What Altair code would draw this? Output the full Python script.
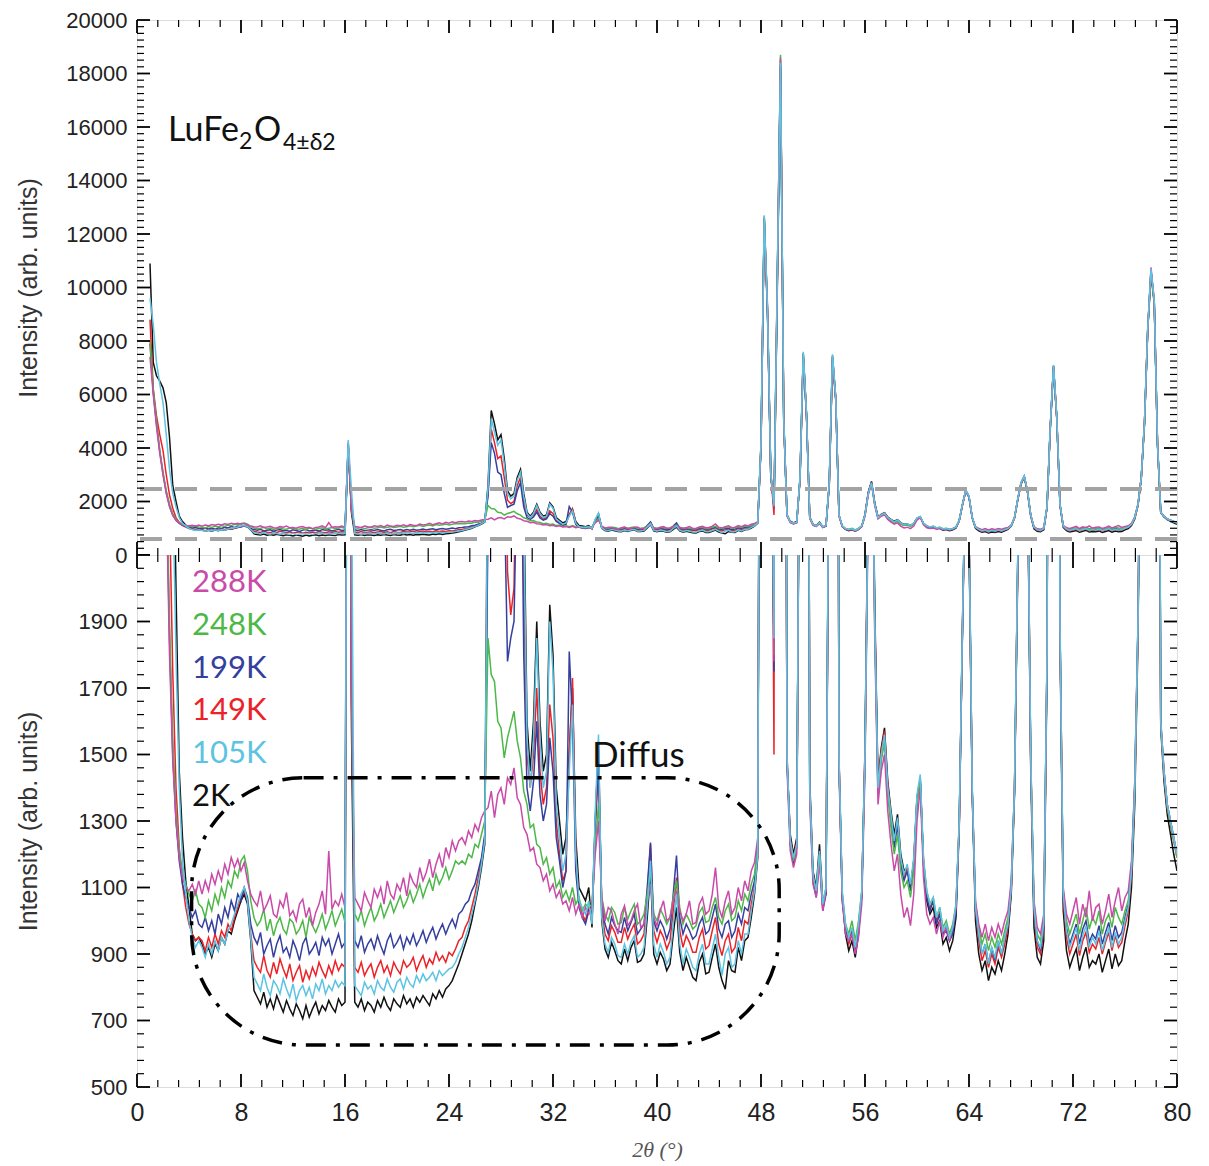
import altair as alt
import pandas as pd

# ---------------- data ----------------
SERIES = ["288K", "248K", "199K", "149K", "105K", "2K"]
COLORS = ["#c94aa8", "#4db848", "#343f9e", "#ec2227", "#5cc3e2", "#111111"]
DRAW_ORDER = ["2K", "149K", "199K", "248K", "288K", "105K"]

# 2-theta grid: 1.0 .. 80.0 every 0.25 deg (317 points)
TWO_THETA = [round(1.0 + 0.25 * i, 2) for i in range(317)]

I_288K = [
    # 1.0-4.75
    7400, 6000, 4800, 3800, 3000, 2300, 1800, 1480, 1300, 1190, 1130, 1100, 1090, 1110, 1080, 1120,
    # 5.0-8.75
    1080, 1120, 1090, 1140, 1110, 1150, 1120, 1170, 1140, 1190, 1160, 1185, 1150, 1175, 1120, 1080,
    # 9.0-16.0
    1060, 1045, 1090, 1030, 1050, 1075, 1020, 1010, 1060, 1040, 1085, 1015, 1030, 1000, 1050, 1065,
    1010, 1040, 985, 1025, 1050, 1090, 1020, 1210, 1035, 1060, 1045, 1080, 1040,
    # 16.25-16.5
    4100, 1750,
    # 16.75-24.75
    1070, 1050, 1030, 1085, 1060, 1040, 1095, 1070, 1100, 1050, 1120, 1080, 1065, 1110, 1090, 1130,
    1075, 1140, 1115, 1100, 1160, 1120, 1145, 1185, 1130, 1170, 1200, 1160, 1220, 1190, 1240, 1210, 1240,
    # 25.0-26.75
    1250, 1230, 1270, 1250, 1290, 1270, 1310, 1330,
    # 27.0-34.75
    1340, 1390, 1310, 1380, 1400, 1350, 1430, 1410, 1460, 1370, 1350, 1280, 1260, 1210, 1220, 1170,
    1160, 1120, 1140, 1090, 1110, 1070, 1090, 1050, 1060, 1030, 1070, 1020, 1050, 1010, 1040, 1020,
    # 35.0-47.75
    1040, 1200, 1300, 1070, 1000, 1040, 1030, 990, 960, 1020, 1045, 985, 1000, 1030, 1050, 980,
    990, 1060, 1110, 1010, 985, 1030, 1060, 1000, 1010, 1060, 1090, 1030, 1000, 1020, 1060, 990,
    995, 1050, 1070, 1020, 1030, 1080, 1160, 1040, 1010, 1060, 1090, 1020, 1040, 1100, 1060, 1120,
    1090, 1150, 1175, 1250,
    # 48.0-80.0
    4050, 12550, 9250, 3050, 1780, 10250, 18600, 5050,
    1460, 1210, 1160, 1200, 2820, 7500, 5200, 1360,
    1110, 1070, 1180, 1030, 1090, 2620, 7400, 5800,
    1450, 1060, 960, 940, 960, 900, 950, 1050,
    1450, 2250, 2650, 1850, 1350, 1450, 1500, 1330,
    1230, 1150, 1200, 1080, 1010, 1040, 985, 1080,
    1300, 1400, 1130, 1020, 990, 1010, 960, 1000,
    950, 980, 940, 980, 1040, 1290, 1870, 2400,
    2170, 1380, 1060, 990, 950, 990, 940, 980,
    950, 990, 960, 1000, 1030, 1120, 1400, 2070,
    2700, 2950, 2370, 1470, 1060, 980, 960, 1020,
    1770, 4740, 7040, 5140, 1870, 1100, 1020, 990,
    1030, 1070, 990, 1050, 1010, 1090, 1000, 1040,
    1050, 990, 1030, 1080, 1010, 1060, 1100, 1030,
    1070, 1090, 1180, 1420, 1890, 2880, 4950, 8450,
    10750, 9500, 4200, 1600, 1450, 1350, 1300, 1250,
    1200,
]

I_248K = [
    8000, 6200, 5000, 3900, 3100, 2400, 1900, 1550, 1330, 1210, 1150, 1110, 1080, 1060, 1090, 1050,
    1040, 1010, 1060, 1030, 1080, 1050, 1100, 1070, 1120, 1100, 1150, 1130, 1180, 1195, 1150, 1060,
    1010, 985, 1000, 1035, 970, 1005, 955, 990, 1010, 975, 960, 1005, 995, 960, 975, 1000,
    950, 1010, 985, 965, 990, 1020, 975, 1000, 1030, 985, 1010, 1035, 995,
    4000, 1700,
    1020, 1000, 1030, 985, 1015, 1040, 1000, 1020, 1050, 1010, 1035, 1060, 1025, 1050, 1075, 1040,
    1060, 1090, 1055, 1080, 1110, 1070, 1100, 1125, 1090, 1140, 1110, 1130, 1160, 1125, 1150, 1180, 1170,
    1180, 1170, 1200, 1190, 1230, 1220, 1260, 1300,
    1850, 1740, 1720, 1600, 1580, 1490, 1550, 1590, 1630, 1540, 1490, 1390, 1350, 1280, 1290, 1230,
    1220, 1170, 1190, 1140, 1160, 1100, 1120, 1070, 1090, 1060, 1100, 1050, 1070, 1030, 1050, 1040,
    1050, 1230, 1350, 1070, 1020, 1000, 1040, 1025, 990, 995, 1040, 1005, 1030, 1050, 990, 1000,
    1020, 1080, 1150, 1020, 1000, 1035, 1015, 990, 1010, 1070, 1120, 1040, 990, 1020, 1000, 975,
    985, 1025, 1040, 995, 1000, 1040, 1070, 1010, 990, 1030, 1050, 1000, 1010, 1060, 1030, 1080,
    1060, 1110, 1140, 1230,
    4100, 12600, 9300, 3000, 1800, 10300, 18700, 5000,
    1480, 1230, 1180, 1220, 2850, 7550, 5250, 1380,
    1130, 1090, 1200, 1050, 1100, 2650, 7450, 5850,
    1470, 1080, 990, 960, 1000, 940, 1000, 1090,
    1480, 2280, 2680, 1880, 1380, 1480, 1540, 1380,
    1280, 1200, 1260, 1150, 1100, 1120, 1070, 1150,
    1350, 1420, 1180, 1090, 1050, 1070, 1010, 1040,
    980, 1000, 960, 990, 1050, 1300, 1880, 2410,
    2180, 1390, 1050, 980, 930, 960, 910, 950,
    920, 960, 930, 970, 1010, 1110, 1400, 2080,
    2680, 2920, 2380, 1480, 1050, 960, 940, 1000,
    1780, 4750, 7050, 5150, 1880, 1090, 1000, 960,
    990, 1020, 960, 1000, 1040, 975, 1010, 990,
    1030, 960, 1000, 1020, 980, 1040, 1010, 990,
    1030, 1060, 1160, 1400, 1880, 2870, 4950, 8450,
    10600, 9450, 4150, 1590, 1440, 1340, 1290, 1240,
    1190,
]

I_199K = [
    7900, 6100, 4900, 3900, 3050, 2350, 1850, 1500, 1300, 1180, 1110, 1070, 1040, 1010, 1030, 990,
    980, 1010, 970, 1000, 960, 1020, 990, 1040, 1010, 1060, 1030, 1080, 1060, 1100, 1070, 990,
    950, 930, 965, 900, 925, 945, 890, 930, 955, 905, 920, 890, 940, 915, 880, 930,
    950, 900, 915, 935, 895, 950, 925, 945, 900, 930, 960, 920, 935,
    4150, 1680,
    940, 920, 955, 905, 930, 945, 915, 955, 925, 900, 940, 960, 920, 935, 955, 915,
    950, 930, 960, 925, 945, 970, 935, 960, 980, 945, 970, 990, 960, 985, 1005, 980, 1020,
    1030, 1050, 1060, 1090, 1110, 1150, 1190, 1260,
    2200, 4200, 3800, 3100, 3000, 2300, 1780, 1850, 1900, 2400, 2700, 1800, 1400, 1330, 1420, 1600,
    1380, 1300, 1350, 1550, 1450, 1250, 1180, 1100, 1150, 1810, 1600, 1150, 1040, 1010, 990, 1030,
    1020, 1300, 1480, 1050, 990, 960, 1010, 985, 970, 965, 1010, 970, 995, 1020, 960, 975,
    990, 1100, 1235, 1000, 970, 1000, 980, 945, 975, 1080, 1196, 1010, 960, 990, 970, 945,
    955, 990, 1010, 960, 970, 1010, 1050, 975, 950, 990, 1000, 950, 970, 1020, 990, 1040,
    1030, 1080, 1120, 1220,
    4150, 12650, 9150, 3080, 1750, 10100, 18500, 5080,
    1500, 1230, 1170, 1220, 2880, 7550, 5280, 1390,
    1120, 1070, 1190, 1030, 1080, 2680, 7450, 5880,
    1490, 1060, 970, 940, 970, 900, 980, 1070,
    1490, 2310, 2710, 1910, 1390, 1490, 1550, 1390,
    1300, 1220, 1290, 1170, 1120, 1150, 1090, 1170,
    1360, 1430, 1170, 1070, 1030, 1060, 990, 1020,
    960, 970, 940, 960, 1030, 1290, 1890, 2420,
    2190, 1390, 1030, 960, 900, 930, 870, 920,
    880, 940, 900, 950, 990, 1100, 1390, 2090,
    2690, 2940, 2390, 1490, 1030, 940, 910, 980,
    1790, 4780, 7080, 5180, 1890, 1070, 980, 930,
    960, 990, 930, 975, 1000, 935, 960, 945,
    985, 930, 965, 995, 940, 985, 950, 965,
    1010, 1050, 1160, 1410, 1900, 2890, 4980, 8480,
    10650, 9480, 4180, 1600, 1450, 1350, 1300, 1250,
    1200,
]

I_149K = [
    8800, 6200, 5200, 4500, 3900, 3000, 2250, 1750, 1400, 1220, 1110, 1040, 990, 960, 940, 950,
    940, 910, 950, 920, 960, 930, 970, 950, 990, 970, 1010, 1040, 1070, 1090, 1060, 960,
    880, 860, 845, 895, 850, 830, 875, 840, 885, 855, 830, 870, 820, 845, 865, 815,
    850, 825, 860, 835, 875, 850, 830, 865, 840, 880, 850, 870, 860,
    4200, 1650,
    860, 845, 875, 835, 855, 870, 830, 860, 880, 845, 865, 835, 875, 855, 840, 880,
    860, 870, 890, 850, 875, 895, 860, 885, 870, 905, 880, 895, 875, 905, 895, 915, 940,
    950, 980, 1000, 1040, 1080, 1130, 1180, 1250,
    2300, 4700, 4200, 3600, 3700, 2900, 2050, 1920, 2000, 2600, 2900, 2000, 1500, 1400, 1500, 1700,
    1450, 1350, 1400, 1650, 1550, 1300, 1200, 1120, 1150, 1500, 1730, 1200, 1050, 1020, 1000, 1040,
    1000, 1280, 1450, 1030, 960, 940, 985, 965, 935, 935, 980, 945, 970, 990, 930, 940,
    960, 1080, 1230, 970, 935, 970, 950, 915, 940, 1030, 1130, 970, 920, 955, 935, 905,
    905, 950, 975, 915, 925, 970, 1010, 930, 895, 940, 960, 905, 920, 980, 940, 1000,
    990, 1050, 1100, 1200,
    4100, 12600, 9100, 3050, 1500, 10000, 18300, 5050,
    1490, 1250, 1180, 1240, 2850, 7500, 5250, 1410,
    1130, 1080, 1200, 1040, 1090, 2650, 7400, 5850,
    1490, 1070, 980, 930, 960, 910, 980, 1080,
    1510, 2320, 2720, 1920, 1410, 1510, 1570, 1410,
    1310, 1230, 1300, 1180, 1130, 1160, 1100, 1180,
    1370, 1430, 1180, 1080, 1040, 1060, 1000, 1030,
    960, 980, 940, 970, 1040, 1290, 1890, 2420,
    2180, 1390, 1030, 940, 880, 910, 860, 900,
    870, 920, 890, 930, 980, 1090, 1390, 2080,
    2680, 2930, 2380, 1480, 1020, 920, 900, 970,
    1780, 4750, 7050, 5150, 1880, 1060, 950, 900,
    930, 960, 895, 940, 965, 905, 930, 915,
    950, 900, 935, 965, 910, 955, 920, 935,
    985, 1030, 1140, 1390, 1880, 2880, 4950, 8450,
    10600, 9450, 4150, 1590, 1440, 1340, 1290, 1240,
    1190,
]

I_105K = [
    9600, 8600, 7200, 6400, 5700, 4500, 3200, 2300, 1800, 1400, 1180, 1080, 1000, 950, 920, 940,
    920, 890, 930, 900, 940, 910, 950, 930, 970, 990, 1020, 1050, 1080, 1100, 1060, 950,
    830, 810, 790, 840, 800, 775, 820, 805, 780, 825, 795, 770, 810, 760, 790, 805,
    775, 800, 765, 810, 790, 825, 780, 805, 790, 820, 800, 815, 805,
    4300, 2400,
    805, 790, 775, 815, 795, 805, 780, 820, 800, 790, 825, 800, 785, 815, 825, 795,
    830, 810, 800, 835, 815, 840, 820, 830, 845, 820, 850, 835, 845, 855, 860, 875, 900,
    920, 950, 980, 1020, 1060, 1110, 1170, 1240,
    2500, 5100, 4600, 4100, 4300, 3400, 2300, 2100, 2200, 2800, 3100, 2200, 1550, 1400, 1550, 1850,
    1550, 1400, 1450, 1900, 1750, 1350, 1250, 1150, 1200, 1450, 1650, 1200, 1060, 1040, 1020, 1060,
    990, 1330, 1560, 1010, 930, 905, 950, 930, 895, 890, 930, 900, 935, 955, 890, 900,
    920, 1040, 1180, 930, 890, 930, 905, 870, 890, 990, 1080, 930, 870, 915, 890, 860,
    850, 900, 930, 870, 870, 915, 960, 890, 836, 900, 920, 860, 870, 940, 900, 960,
    960, 1030, 1090, 1200,
    4200, 12700, 9200, 3100, 1850, 10200, 18400, 5100,
    1500, 1240, 1190, 1230, 2900, 7600, 5300, 1400,
    1140, 1090, 1210, 1050, 1100, 2700, 7500, 5900,
    1500, 1090, 990, 950, 980, 920, 990, 1090,
    1500, 2300, 2700, 1900, 1400, 1500, 1560, 1400,
    1320, 1240, 1310, 1190, 1140, 1170, 1110, 1190,
    1380, 1440, 1190, 1090, 1050, 1070, 1010, 1040,
    970, 990, 950, 980, 1050, 1300, 1900, 2430,
    2200, 1400, 1040, 960, 900, 930, 870, 920,
    890, 940, 900, 950, 990, 1100, 1400, 2100,
    2700, 2950, 2400, 1500, 1040, 940, 920, 990,
    1800, 4800, 7100, 5200, 1900, 1080, 970, 920,
    950, 980, 910, 955, 985, 920, 950, 930,
    970, 910, 945, 980, 920, 965, 930, 950,
    1000, 1040, 1150, 1400, 1900, 2900, 5000, 8500,
    10700, 9500, 4200, 1600, 1450, 1350, 1300, 1250,
    1200,
]

I_2K = [
    10900, 7200, 6700, 6500, 6250, 5700, 4400, 2600, 2000, 1450, 1250, 1120, 1040, 960, 940, 950,
    930, 900, 920, 890, 930, 910, 950, 930, 970, 960, 1000, 1030, 1060, 1080, 1050, 940,
    790, 770, 750, 785, 740, 765, 735, 775, 750, 725, 760, 735, 715, 750, 730, 705,
    745, 710, 735, 755, 720, 745, 730, 760, 740, 725, 765, 745, 755,
    4000, 1580,
    755, 740, 765, 730, 755, 745, 725, 760, 740, 770, 745, 730, 765, 750, 740, 775,
    750, 765, 740, 770, 755, 775, 760, 745, 780, 765, 790, 770, 795, 805, 820, 845, 870,
    900, 930, 960, 1000, 1050, 1100, 1160, 1230,
    2600, 5400, 4900, 4300, 4500, 3600, 2400, 2200, 2300, 2900, 3200, 2300, 1600, 1450, 1600, 1900,
    1600, 1450, 1500, 1950, 1800, 1400, 1300, 1200, 1250, 1500, 1700, 1250, 1100, 1080, 1060, 1100,
    980, 1300, 1540, 1000, 915, 890, 935, 910, 880, 870, 915, 880, 920, 940, 875, 880,
    900, 1010, 1150, 900, 870, 905, 885, 850, 870, 960, 1040, 905, 850, 890, 860, 830,
    820, 875, 900, 840, 845, 890, 930, 860, 820, 794, 880, 850, 845, 920, 880, 940,
    950, 1010, 1080, 1190,
    4000, 12500, 9000, 3000, 1800, 9800, 18200, 5000,
    1480, 1260, 1200, 1250, 2800, 7400, 5200, 1420,
    1150, 1100, 1230, 1060, 1080, 2600, 7300, 5800,
    1480, 1080, 960, 910, 940, 890, 960, 1080,
    1520, 2350, 2750, 1950, 1420, 1520, 1580, 1420,
    1330, 1260, 1320, 1200, 1150, 1160, 1100, 1180,
    1370, 1420, 1170, 1060, 1020, 1040, 980, 1000,
    930, 950, 910, 940, 1010, 1280, 1880, 2400,
    2150, 1380, 1000, 900, 850, 880, 820, 860,
    840, 880, 850, 900, 960, 1080, 1380, 2050,
    2650, 2900, 2350, 1450, 980, 890, 870, 940,
    1750, 4700, 7000, 5100, 1850, 1030, 910, 860,
    890, 915, 850, 890, 920, 860, 880, 870,
    900, 845, 880, 915, 855, 900, 865, 880,
    940, 990, 1100, 1350, 1850, 2850, 4900, 8400,
    10500, 9400, 4100, 1580, 1420, 1320, 1260, 1200,
    1150,
]

VALUES = {"288K": I_288K, "248K": I_248K, "199K": I_199K,
          "149K": I_149K, "105K": I_105K, "2K": I_2K}

# axis ticks / labels
X_LABELS = list(range(0, 81, 8))
X_MINOR = [round(1.6 * i, 1) for i in range(51) if i % 5 != 0]
Y_TOP_LABELS = list(range(0, 20001, 2000))
Y_TOP_MINOR = [v for v in range(0, 20001, 250) if v % 2000 != 0]
Y_BOT_LABELS = list(range(500, 2000, 200))
Y_BOT_MAJOR = list(range(500, 2101, 200))
Y_BOT_MINOR = [v for v in range(500, 2101, 40) if (v - 500) % 200 != 0]
ZOOM_WINDOW = [2470, 600]   # grey dashed guide lines in the upper panel

# ---------------- build ----------------
rows = []
for s in DRAW_ORDER:
    vals = VALUES[s]
    assert len(vals) == len(TWO_THETA), (s, len(vals))
    for x, y in zip(TWO_THETA, vals):
        rows.append({"two_theta": x, "intensity": y, "series": s})
df = pd.DataFrame(rows)

W = 1040
H_TOP = 535
H_BOT = 532

X_SCALE = alt.Scale(domain=[0, 80], nice=False, zero=False)
Y_TOP = alt.Scale(domain=[0, 20000], nice=False)
Y_BOT = alt.Scale(domain=[500, 2100], nice=False, zero=False)
C_SCALE = alt.Scale(domain=SERIES, range=COLORS)

LABEL_FONT = "Liberation Sans"


def y_axis(values):
    return alt.Axis(values=values, format="d", ticks=False, tickSize=0, domain=False, grid=False,
                    labelFont=LABEL_FONT, labelFontSize=22, labelColor="#222",
                    labelPadding=10, labelOverlap=False, labelFlush=False,
                    title="Intensity (arb. units)", titleFont=LABEL_FONT,
                    titleFontSize=25, titleFontWeight="normal", titleColor="#333",
                    titleX=-96)


X_AXIS_BOT = alt.Axis(values=X_LABELS, format="d", ticks=False, tickSize=0, domain=False,
                      grid=False, labelFont=LABEL_FONT, labelFontSize=25, labelColor="#222",
                      labelPadding=13, labelFlush=False, labelOverlap=False,
                      title="2θ (°)", titleFont="Liberation Serif", titleFontStyle="italic",
                      titleFontWeight="normal", titleFontSize=22, titleColor="#555",
                      titlePadding=14)
Y_AXIS_TOP = y_axis(Y_TOP_LABELS)
Y_AXIS_BOT = y_axis(Y_BOT_LABELS)


def frame_ticks(xaxis, yscale, yaxis, ymajor, yminor, h):
    layers = []
    for vals, ln, sw in [(X_LABELS, 13, 1.8), (X_MINOR, 7, 1.2)]:
        base = alt.Chart(pd.DataFrame({"t": vals})).mark_rule(color="black", strokeWidth=sw)
        layers.append(base.encode(x=alt.X("t:Q", scale=X_SCALE, axis=xaxis),
                                  y=alt.value(h), y2=alt.value(h - ln)))
        layers.append(base.encode(x=alt.X("t:Q", scale=X_SCALE, axis=xaxis),
                                  y=alt.value(0), y2=alt.value(ln)))
    for vals, ln, sw in [(ymajor, 13, 1.8), (yminor, 7, 1.2)]:
        base = alt.Chart(pd.DataFrame({"t": vals})).mark_rule(color="black", strokeWidth=sw)
        layers.append(base.encode(y=alt.Y("t:Q", scale=yscale, axis=yaxis),
                                  x=alt.value(0), x2=alt.value(ln)))
        layers.append(base.encode(y=alt.Y("t:Q", scale=yscale, axis=yaxis),
                                  x=alt.value(W), x2=alt.value(W - ln)))
    return layers


def txt(t, x, y, size):
    return alt.Chart(pd.DataFrame({"t": [t]})).mark_text(
        align="left", baseline="alphabetic", font="Lato", fontSize=size, color="#111"
    ).encode(text="t:N", x=alt.value(x), y=alt.value(y))


# ----- upper panel -----
lines_top = alt.Chart(df).mark_line(strokeWidth=1.5).encode(
    x=alt.X("two_theta:Q", scale=X_SCALE, axis=None),
    y=alt.Y("intensity:Q", scale=Y_TOP, axis=Y_AXIS_TOP),
    color=alt.Color("series:N", scale=C_SCALE, legend=None),
)

guides = alt.Chart(pd.DataFrame({"level": ZOOM_WINDOW})).mark_rule(
    color="#a3a3a3", strokeWidth=4, strokeDash=[22, 13]
).encode(y=alt.Y("level:Q", scale=Y_TOP, axis=Y_AXIS_TOP))

formula = [txt("LuFe", 31, 121, 34), txt("2", 102, 129, 23),
           txt("O", 117, 121, 34), txt("4±δ2", 146, 130, 23)]

top = alt.layer(lines_top, guides,
                *frame_ticks(None, Y_TOP, Y_AXIS_TOP, Y_TOP_LABELS, Y_TOP_MINOR, H_TOP),
                *formula).properties(width=W, height=H_TOP)

# ----- lower panel -----
lines_bot = alt.Chart(df).mark_line(strokeWidth=1.5, clip=True).encode(
    x=alt.X("two_theta:Q", scale=X_SCALE, axis=X_AXIS_BOT),
    y=alt.Y("intensity:Q", scale=Y_BOT, axis=Y_AXIS_BOT),
    color=alt.Color("series:N", scale=C_SCALE, legend=None),
)

diffuse_box = alt.Chart(pd.DataFrame({"a": [0]})).mark_rect(
    filled=False, color="black", strokeWidth=3.5, strokeDash=[20, 10, 4, 10], cornerRadius=112
).encode(
    x=alt.XDatum(4.2, scale=X_SCALE, axis=X_AXIS_BOT), x2=alt.X2Datum(49.4),
    y=alt.YDatum(1430, scale=Y_BOT, axis=Y_AXIS_BOT), y2=alt.Y2Datum(626),
)

diffus_label = txt("Diffus", 455, 212, 35)

series_labels = alt.Chart(pd.DataFrame({"series": SERIES})).mark_text(
    align="left", baseline="middle", font="Lato", fontSize=31
).encode(
    x=alt.value(55),
    y=alt.Y("series:N", sort=SERIES,
            scale=alt.Scale(type="point", domain=SERIES, range=[28, 242], padding=0),
            axis=None),
    text="series:N",
    color=alt.Color("series:N", scale=C_SCALE, legend=None),
)

inner_bot = alt.layer(lines_bot,
                      *frame_ticks(X_AXIS_BOT, Y_BOT, Y_AXIS_BOT, Y_BOT_MAJOR, Y_BOT_MINOR, H_BOT),
                      diffuse_box, diffus_label)
bottom = alt.layer(inner_bot, series_labels).resolve_scale(y="independent").properties(
    width=W, height=H_BOT)

chart = alt.vconcat(top, bottom, spacing=0, bounds="flush").properties(
    padding={"left": 7, "top": 0, "right": 0, "bottom": 0}
).configure_view(
    stroke="black", strokeWidth=2
).configure(background="white")

chart.save("out.html", embed_options={"renderer": "svg", "actions": False})
